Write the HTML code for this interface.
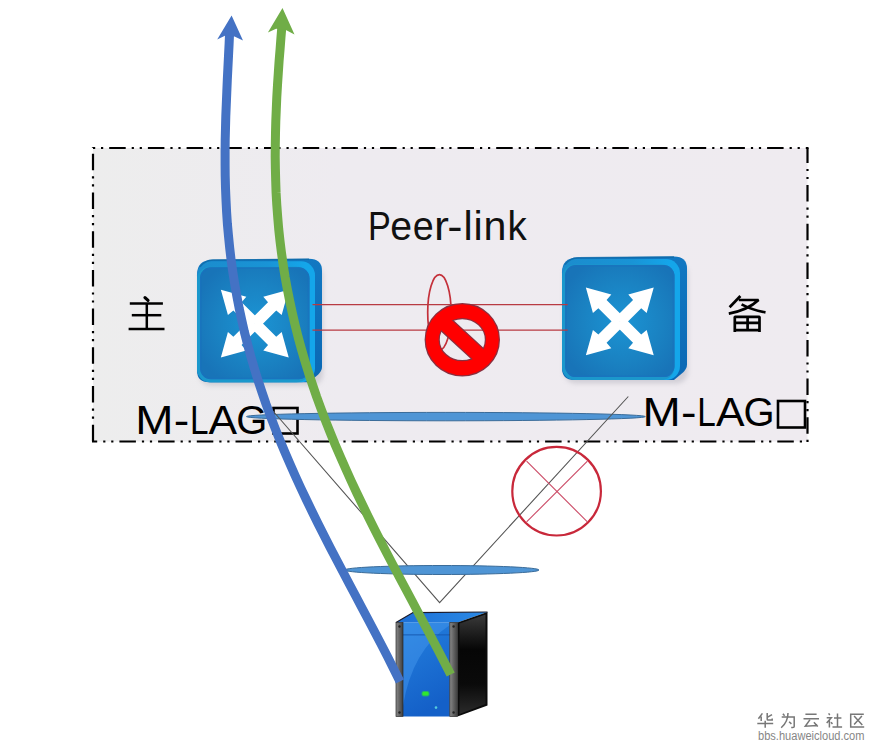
<!DOCTYPE html>
<html><head><meta charset="utf-8"><title>M-LAG</title>
<style>
html,body{margin:0;padding:0;background:#fff;width:879px;height:751px;overflow:hidden;}
svg{display:block;font-family:"Liberation Sans",sans-serif;}
</style></head><body>
<svg width="879" height="751" viewBox="0 0 879 751">
<defs>
  <linearGradient id="boxbg" x1="0" y1="0" x2="1" y2="0">
    <stop offset="0" stop-color="#ededed"/>
    <stop offset="0.35" stop-color="#eeebf0"/>
    <stop offset="1" stop-color="#efebf0"/>
  </linearGradient>
  <radialGradient id="face" cx="0.52" cy="0.5" r="0.6">
    <stop offset="0" stop-color="#1b94d4"/>
    <stop offset="0.6" stop-color="#1a82c2"/>
    <stop offset="1" stop-color="#1874b8"/>
  </radialGradient>
  <linearGradient id="side" x1="0" y1="0" x2="0" y2="1">
    <stop offset="0" stop-color="#1278c2"/>
    <stop offset="1" stop-color="#0a68b4"/>
  </linearGradient>
  <linearGradient id="bevel" x1="0" y1="0" x2="1" y2="0">
    <stop offset="0" stop-color="#1b8ccd"/>
    <stop offset="0.6" stop-color="#1994d6"/>
    <stop offset="0.92" stop-color="#14a6ea"/>
  </linearGradient>
  <filter id="sh" x="-10%" y="-10%" width="130%" height="130%">
    <feGaussianBlur stdDeviation="2.5"/>
  </filter>
  <g id="arrow">
    <polygon points="-5.8,0 -5.8,-24.5 -13,-25 0,-48 13,-25 5.8,-24.5 5.8,0" fill="#fff"/>
  </g>
  <g id="switch">
    <rect x="2" y="6" width="124" height="121" rx="12" fill="#9a9aa6" opacity="0.35" filter="url(#sh)"/>
    <path d="M0,16 Q0,1.5 15,1 L112,0 Q125,0 125,12 L125,108 Q125,112 121,116 L112,123.5 L12,123.5 Q0,123.5 0,111.5 Z" fill="url(#side)"/>
    <rect x="0" y="2.5" width="118" height="121" rx="14" fill="url(#bevel)"/>
    <path d="M3,8 Q8,1.5 16,1.2 L112,0.5" fill="none" stroke="#0f6aa8" stroke-width="1.6" opacity="0.8"/>
    <rect x="0" y="8" width="112.5" height="115.5" rx="13" fill="#1b98cc"/>
    <rect x="3" y="8.5" width="109.5" height="112" rx="11" fill="url(#face)"/>
    <rect x="3.8" y="9.3" width="107.9" height="110.4" rx="10.2" fill="none" stroke="#1a70c0" stroke-width="1.6" opacity="0.5"/>
    <g transform="translate(57.8,64.8)">
      <use href="#arrow" transform="rotate(-45)"/>
      <use href="#arrow" transform="rotate(45)"/>
      <use href="#arrow" transform="rotate(135)"/>
      <use href="#arrow" transform="rotate(-135)"/>
    </g>
  </g>
  <linearGradient id="srvfront" x1="0" y1="0" x2="0.3" y2="1">
    <stop offset="0" stop-color="#2480de"/>
    <stop offset="1" stop-color="#1460c8"/>
  </linearGradient>
  <linearGradient id="srvside" x1="0" y1="0" x2="0" y2="1">
    <stop offset="0" stop-color="#3a3a3a"/>
    <stop offset="0.35" stop-color="#060606"/>
    <stop offset="0.7" stop-color="#0a0a0a"/>
    <stop offset="1" stop-color="#2a2a2a"/>
  </linearGradient>
  <linearGradient id="rail" x1="0" y1="0" x2="1" y2="0">
    <stop offset="0" stop-color="#8a8a8a"/>
    <stop offset="0.4" stop-color="#6a6a6a"/>
    <stop offset="1" stop-color="#3e3e3e"/>
  </linearGradient>
  <linearGradient id="srvtop" x1="0" y1="0" x2="1" y2="0">
    <stop offset="0" stop-color="#1d6fd6"/>
    <stop offset="1" stop-color="#2b8ae6"/>
  </linearGradient>
</defs>

<!-- dashed box -->
<rect x="93" y="148" width="714.5" height="293.5" fill="url(#boxbg)"/>
<g fill="none" stroke="#000" stroke-width="2.2" stroke-dasharray="2.2 5.8 2.2 6 16.5 6">
  <path d="M93,148 H808.5"/>
  <path d="M807.5,148 V442.5" stroke-dashoffset="17.8"/>
  <path d="M807.5,441.5 H92" stroke-dashoffset="2.5"/>
  <path d="M93,441.5 V147" stroke-dashoffset="15.9"/>
</g>

<!-- Peer-link -->
<text transform="translate(368.09,240.4) scale(0.826,1)" font-size="41.4" fill="#111">P</text>
<text transform="translate(390.13,240.4) scale(0.947,1)" font-size="41.4" fill="#111">e</text>
<text transform="translate(412.80,240.4) scale(0.911,1)" font-size="41.4" fill="#111">e</text>
<text transform="translate(434.12,240.4) scale(1.082,1)" font-size="41.4" fill="#111">r</text>
<text transform="translate(447.36,240.4) scale(1.108,1)" font-size="41.4" fill="#111">-</text>
<text transform="translate(463.39,240.4) scale(1.000,1)" font-size="41.4" fill="#111">l</text>
<text transform="translate(473.51,240.4) scale(1.000,1)" font-size="41.4" fill="#111">i</text>
<text transform="translate(483.56,240.4) scale(0.995,1)" font-size="41.4" fill="#111">n</text>
<text transform="translate(507.61,240.4) scale(0.929,1)" font-size="41.4" fill="#111">k</text>

<!-- zhu -->
<g stroke="#000" stroke-width="2.5" fill="none" stroke-linecap="butt">
  <path d="M145,297.6 L148,300.4" stroke-width="3.2" stroke-linecap="round"/>
  <path d="M129.8,303.6 H162.9"/>
  <path d="M131.8,315.2 H161.3"/>
  <path d="M128.6,328.9 H164.5"/>
  <path d="M146.8,303.6 V328.9"/>
</g>
<!-- bei -->
<g stroke="#000" stroke-width="2.7" fill="none" stroke-linecap="butt" stroke-linejoin="bevel">
  <path d="M740.4,296 L729.6,307.2"/>
  <path d="M738.8,300 H758.5 Q748,310 728.8,313.6"/>
  <path d="M741.6,304.4 Q752,310 765.5,312.4"/>
  <path d="M734.8,332 V316.8 H759.5 V332"/>
  <path d="M734.8,322.8 H759.5 M747.6,316.8 V330.2 M734.8,330.2 H759.5"/>
</g>

<ellipse cx="439.4" cy="312.4" rx="11.7" ry="37.7" fill="none" stroke="#c4303a" stroke-width="1.7"/>

<!-- switches -->
<use href="#switch" x="197" y="258.8"/>
<use href="#switch" x="562" y="256.6"/>

<!-- red peer-link lines -->
<g stroke="#b83a42" stroke-width="1.3">
  <line x1="312.5" y1="304.7" x2="567.7" y2="304.7"/>
  <line x1="312.5" y1="330.1" x2="567.7" y2="330.1"/>
</g>
<!-- no sign -->
<g transform="translate(462.3,339.7)">
  <g stroke="#8a3040" stroke-width="2.4">
    <path d="M-36.5,0 A36.5,35.5 0 1,0 36.5,0 A36.5,35.5 0 1,0 -36.5,0 Z M-23.7,0 A23.7,21.6 0 1,0 23.7,0 A23.7,21.6 0 1,0 -23.7,0 Z" fill="#f00" fill-rule="evenodd"/>
    <rect x="-29" y="-7.2" width="58" height="14.4" transform="rotate(42.6)" fill="#f00"/>
  </g>
  <path d="M-36.5,0 A36.5,35.5 0 1,0 36.5,0 A36.5,35.5 0 1,0 -36.5,0 Z M-23.7,0 A23.7,21.6 0 1,0 23.7,0 A23.7,21.6 0 1,0 -23.7,0 Z" fill="#f00" fill-rule="evenodd"/>
  <rect x="-29" y="-7.2" width="58" height="14.4" transform="rotate(42.6)" fill="#f00"/>
</g>

<!-- M-LAG texts -->
<text transform="translate(135.14,434.1) scale(1.109,1)" font-size="41.4" fill="#000">M</text>
<text transform="translate(173.63,434.1) scale(1.128,1)" font-size="41.4" fill="#000">-</text>
<text transform="translate(190.07,434.1) scale(0.805,1)" font-size="41.4" fill="#000">L</text>
<text transform="translate(208.62,434.1) scale(1.035,1)" font-size="41.4" fill="#000">A</text>
<text transform="translate(236.29,434.1) scale(0.966,1)" font-size="41.4" fill="#000">G</text>
<rect x="273.5" y="408" width="24" height="25.5" fill="none" stroke="#000" stroke-width="2.6"/>
<text transform="translate(642.44,426.3) scale(1.109,1)" font-size="41.4" fill="#000">M</text>
<text transform="translate(680.93,426.3) scale(1.128,1)" font-size="41.4" fill="#000">-</text>
<text transform="translate(697.37,426.3) scale(0.805,1)" font-size="41.4" fill="#000">L</text>
<text transform="translate(715.92,426.3) scale(1.035,1)" font-size="41.4" fill="#000">A</text>
<text transform="translate(743.59,426.3) scale(0.966,1)" font-size="41.4" fill="#000">G</text>
<rect x="778" y="401" width="27" height="26.5" fill="none" stroke="#000" stroke-width="2.6"/>

<!-- top LAG ellipse -->
<ellipse cx="445.9" cy="416.6" rx="199.4" ry="4.2" fill="#4f95d5" stroke="#3b6c99" stroke-width="1"/>

<!-- V lines -->
<polyline points="273,411 439.6,602.6 628.3,396.5" fill="none" stroke="#555" stroke-width="1.1"/>

<!-- red X circle -->
<circle cx="556.6" cy="491.2" r="44.3" fill="none" stroke="#c8283a" stroke-width="2.2"/>
<g stroke="#cc4a66" stroke-width="1.1">
  <line x1="526.6" y1="461.2" x2="587.4" y2="521.9"/>
  <line x1="587.4" y1="461.2" x2="526.6" y2="521.9"/>
</g>

<!-- bottom LAG ellipse -->
<ellipse cx="442" cy="570" rx="97" ry="4.5" fill="#4f95d5" stroke="#3b6c99" stroke-width="1"/>

<!-- server -->
<g>
  <polygon points="396,622.5 413,612.6 487.5,612 457.5,622.5" fill="url(#srvtop)"/>
  <polyline points="396,622.5 413,612.6 487.5,612" fill="none" stroke="#1a1a2a" stroke-width="1.2"/>
  <polygon points="457.5,622.5 487.5,612 487.5,705.5 457.5,716.5" fill="#0b0b0b"/>
  <polygon points="459.5,623.5 485.5,614.5 485.5,704 459.5,714" fill="url(#srvside)"/>
  <rect x="403" y="622.5" width="46.8" height="94" fill="url(#srvfront)"/>
  <path d="M403,706 Q412,650 449.8,625 V622.5 H403 Z" fill="#4a9cf0" opacity="0.45"/>
  <rect x="403" y="634" width="46.8" height="1.6" fill="#1558b0" opacity="0.6"/>
  <rect x="396" y="622.5" width="7" height="94" fill="url(#rail)"/>
  <rect x="396" y="622.5" width="7" height="94" fill="none" stroke="#2a2a2a" stroke-width="0.7"/>
  <rect x="449.8" y="622.5" width="7.7" height="94" fill="url(#rail)"/>
  <rect x="449.8" y="622.5" width="7.7" height="94" fill="none" stroke="#2a2a2a" stroke-width="0.7"/>
  <circle cx="399.5" cy="626.5" r="1.2" fill="#222"/>
  <circle cx="399.5" cy="712.5" r="1.2" fill="#222"/>
  <circle cx="453.6" cy="626.5" r="1.2" fill="#222"/>
  <circle cx="453.6" cy="712.5" r="1.2" fill="#222"/>
  <rect x="421.5" y="691" width="8" height="5.5" rx="2" fill="#30e030" opacity="0.5"/>
  <rect x="422.5" y="691.8" width="6" height="3.8" rx="1.4" fill="#2fe82f"/>
  <circle cx="436" cy="707.6" r="1.3" fill="#5cd"/>
</g>

<!-- blue arrow line -->
<path d="M229.6,32.0 L229.1,44.0 L228.5,56.0 L227.9,68.0 L227.3,80.0 L226.8,92.0 L226.3,104.0 L225.8,116.0 L225.5,128.0 L225.2,140.0 L225.1,152.0 L225.1,164.0 L225.2,176.0 L225.5,188.0 L226.0,200.0 L226.6,212.0 L227.4,224.0 L228.5,236.0 L229.7,248.0 L231.1,260.0 L232.8,272.0 L234.7,284.0 L236.8,296.0 L239.1,308.0 L241.7,320.0 L244.4,332.0 L247.5,344.0 L250.7,356.0 L254.2,368.0 L257.9,380.0 L261.9,392.0 L266.0,404.0 L270.4,416.0 L275.0,428.0 L279.8,440.0 L284.8,452.0 L290.0,464.0 L295.3,476.0 L300.8,488.0 L306.5,500.0 L312.3,512.0 L318.2,524.0 L324.3,536.0 L330.4,548.0 L336.7,560.0 L343.0,572.0 L349.3,584.0 L355.7,596.0 L362.0,608.0 L368.4,620.0 L374.7,632.0 L381.0,644.0 L387.2,656.0 L393.2,668.0 L399.2,680.0 L399.9,681.5" fill="none" stroke="#4472c4" stroke-width="9" stroke-linejoin="round"/>
<polygon points="231.6,15.6 243,40.4 234.5,36.4 225.4,35.6 217.2,39.6" fill="#4472c4"/>

<!-- green arrow line -->
<path d="M282.0,25.0 L281.0,37.0 L280.1,49.0 L279.1,61.0 L278.3,73.0 L277.5,85.0 L276.8,97.0 L276.3,109.0 L275.8,121.0 L275.5,133.0 L275.3,145.0 L275.2,157.0 L275.4,169.0 L275.7,181.0 L276.1,193.0 L276.8,205.0 L277.7,217.0 L278.7,229.0 L280.0,241.0 L281.5,253.0 L283.2,265.0 L285.1,277.0 L287.3,289.0 L289.7,301.0 L292.3,313.0 L295.1,325.0 L298.1,337.0 L301.4,349.0 L304.9,361.0 L308.6,373.0 L312.6,385.0 L316.7,397.0 L321.1,409.0 L325.6,421.0 L330.4,433.0 L335.3,445.0 L340.5,457.0 L345.8,469.0 L351.2,481.0 L356.8,493.0 L362.6,505.0 L368.4,517.0 L374.4,529.0 L380.5,541.0 L386.7,553.0 L393.0,565.0 L399.3,577.0 L405.7,589.0 L412.1,601.0 L418.4,613.0 L424.8,625.0 L431.2,637.0 L437.5,649.0 L443.7,661.0 L449.9,673.0 L450.7,674.6" fill="none" stroke="#70ad47" stroke-width="9" stroke-linejoin="round"/>
<polygon points="282.5,8 294.5,34.6 285.4,29.8 276.1,28.8 267.9,32.5" fill="#70ad47"/>

<!-- watermark -->
<g stroke="#777" stroke-width="1.5" fill="none" stroke-linecap="butt">
  <!-- hua -->
  <path d="M762.4,713.4 L758.4,718.8 M761.2,716.4 V721"/>
  <path d="M767.2,713.1 V719.2 Q767.2,720 768,720 H772.2 V718.6"/>
  <path d="M772,714.6 L767.2,717.4"/>
  <path d="M757.3,723.4 H773.2 M765.2,720.8 V727.8"/>
  <!-- wei -->
  <path d="M782.9,713.7 L784.6,715.7"/>
  <path d="M781.7,717.1 H794.2 V726.6 Q794.2,727.6 792.8,727.6 H791.2"/>
  <path d="M788,713.1 Q788,722 781.2,727.8"/>
  <path d="M789.1,721.7 L791.4,723.9"/>
  <!-- yun -->
  <path d="M805.4,714.3 H816.6 M803.5,718.8 H819"/>
  <path d="M810,719.6 L805.3,726.2 L817.4,725.4 M813.9,722.3 L817.8,726.6"/>
  <!-- she -->
  <path d="M828.6,713.4 L829.8,715 M826.7,717.7 H831.3 L826.7,723.1 M829.4,720.4 V727.6 M830.9,722.3 L832.5,723.9"/>
  <path d="M834,718 H841.4 M837.5,713.4 V727 M832.5,727 H842.1"/>
  <!-- qu -->
  <path d="M863.8,714.2 H850.7 V727 H864.2"/>
  <path d="M854.1,716.1 L862.3,725 M861.9,716.1 L854.1,724.6"/>
</g>
<text x="758" y="739.8" font-size="12" fill="#868686" textLength="106.5" lengthAdjust="spacingAndGlyphs">bbs.huaweicloud.com</text>
</svg>
</body></html>
